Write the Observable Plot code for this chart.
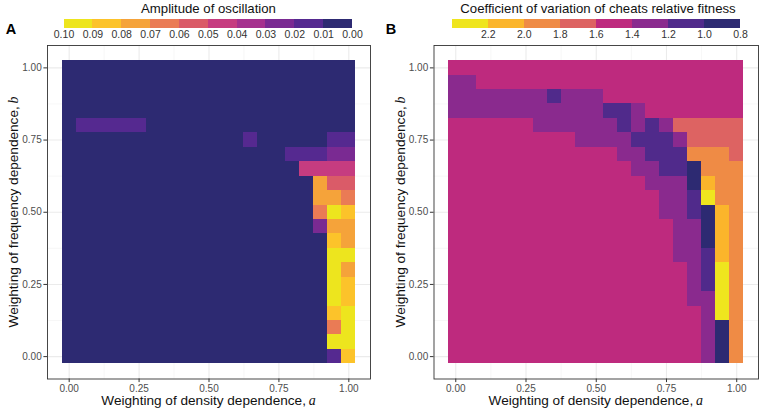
<!DOCTYPE html>
<html><head><meta charset="utf-8">
<script src="https://cdn.jsdelivr.net/npm/d3@7"></script>
<script src="https://cdn.jsdelivr.net/npm/@observablehq/plot@0.6"></script>
<style>
body{margin:0;background:#fff;}
#root{position:relative;width:760px;height:416px;overflow:hidden;background:#fff;font-family:"Liberation Sans",Arial,sans-serif;}
#root svg{position:absolute;top:0;background:none !important;}
</style></head><body><div id="root"></div>
<script>
// grid coordinates
const aValues = [0.00,0.05,0.10,0.15,0.20,0.25,0.30,0.35,0.40,0.45,0.50,0.55,0.60,0.65,0.70,0.75,0.80,0.85,0.90,0.95,1.00];
const bValues = [1.00,0.95,0.90,0.85,0.80,0.75,0.70,0.65,0.60,0.55,0.50,0.45,0.40,0.35,0.30,0.25,0.20,0.15,0.10,0.05,0.00];

// Panel A: amplitude of oscillation (rows from b = 1.00 down to b = 0.00, columns a = 0.00 .. 1.00)
const amplitudeRows = [
 [.005,.005,.005,.005,.005, .005,.005,.005,.005,.005, .005,.005,.005,.005,.005, .005,.005,.005,.005,.005, .005],
 [.005,.005,.005,.005,.005, .005,.005,.005,.005,.005, .005,.005,.005,.005,.005, .005,.005,.005,.005,.005, .005],
 [.005,.005,.005,.005,.005, .005,.005,.005,.005,.005, .005,.005,.005,.005,.005, .005,.005,.005,.005,.005, .005],
 [.005,.005,.005,.005,.005, .005,.005,.005,.005,.005, .005,.005,.005,.005,.005, .005,.005,.005,.005,.005, .005],
 [.005,.015,.015,.015,.015, .015,.005,.005,.005,.005, .005,.005,.005,.005,.005, .005,.005,.005,.005,.005, .005],
 [.005,.005,.005,.005,.005, .005,.005,.005,.005,.005, .005,.005,.005,.015,.005, .005,.005,.005,.005,.015, .015],
 [.005,.005,.005,.005,.005, .005,.005,.005,.005,.005, .005,.005,.005,.005,.005, .005,.015,.015,.015,.025, .025],
 [.005,.005,.005,.005,.005, .005,.005,.005,.005,.005, .005,.005,.005,.005,.005, .005,.005,.045,.045,.045, .045],
 [.005,.005,.005,.005,.005, .005,.005,.005,.005,.005, .005,.005,.005,.005,.005, .005,.005,.005,.075,.055, .055],
 [.005,.005,.005,.005,.005, .005,.005,.005,.005,.005, .005,.005,.005,.005,.005, .005,.005,.005,.075,.075, .065],
 [.005,.005,.005,.005,.005, .005,.005,.005,.005,.005, .005,.005,.005,.005,.005, .005,.005,.005,.065,.095, .085],
 [.005,.005,.005,.005,.005, .005,.005,.005,.005,.005, .005,.005,.005,.005,.005, .005,.005,.005,.025,.075, .075],
 [.005,.005,.005,.005,.005, .005,.005,.005,.005,.005, .005,.005,.005,.005,.005, .005,.005,.005,.005,.085, .075],
 [.005,.005,.005,.005,.005, .005,.005,.005,.005,.005, .005,.005,.005,.005,.005, .005,.005,.005,.005,.095, .095],
 [.005,.005,.005,.005,.005, .005,.005,.005,.005,.005, .005,.005,.005,.005,.005, .005,.005,.005,.005,.095, .075],
 [.005,.005,.005,.005,.005, .005,.005,.005,.005,.005, .005,.005,.005,.005,.005, .005,.005,.005,.005,.095, .085],
 [.005,.005,.005,.005,.005, .005,.005,.005,.005,.005, .005,.005,.005,.005,.005, .005,.005,.005,.005,.095, .085],
 [.005,.005,.005,.005,.005, .005,.005,.005,.005,.005, .005,.005,.005,.005,.005, .005,.005,.005,.005,.085, .095],
 [.005,.005,.005,.005,.005, .005,.005,.005,.005,.005, .005,.005,.005,.005,.005, .005,.005,.005,.005,.065, .095],
 [.005,.005,.005,.005,.005, .005,.005,.005,.005,.005, .005,.005,.005,.005,.005, .005,.005,.005,.005,.095, .095],
 [.005,.005,.005,.005,.005, .005,.005,.005,.005,.005, .005,.005,.005,.005,.005, .005,.005,.005,.005,.015, .085]
];

// Panel B: coefficient of variation of cheats relative fitness
const cvRows = [
 [1.5,1.5,1.5,1.5,1.5, 1.5,1.5,1.5,1.5,1.5, 1.5,1.5,1.5,1.5,1.5, 1.5,1.5,1.5,1.5,1.5, 1.5],
 [1.3,1.3,1.5,1.5,1.5, 1.5,1.5,1.5,1.5,1.5, 1.5,1.5,1.5,1.5,1.5, 1.5,1.5,1.5,1.5,1.5, 1.5],
 [1.3,1.3,1.3,1.3,1.3, 1.3,1.3,1.1,1.3,1.3, 1.3,1.5,1.5,1.5,1.5, 1.5,1.5,1.5,1.5,1.5, 1.5],
 [1.3,1.3,1.3,1.3,1.3, 1.3,1.3,1.3,1.3,1.3, 1.3,1.1,1.1,1.3,1.5, 1.5,1.5,1.5,1.5,1.5, 1.5],
 [1.5,1.5,1.5,1.5,1.5, 1.5,1.3,1.3,1.3,1.3, 1.3,1.3,1.1,1.3,1.1, 1.3,1.7,1.7,1.7,1.7, 1.7],
 [1.5,1.5,1.5,1.5,1.5, 1.5,1.5,1.5,1.5,1.3, 1.3,1.3,1.3,1.1,1.1, 1.1,1.3,1.7,1.7,1.7, 1.7],
 [1.5,1.5,1.5,1.5,1.5, 1.5,1.5,1.5,1.5,1.5, 1.5,1.5,1.3,1.3,1.1, 1.1,1.1,1.9,1.9,1.9, 1.7],
 [1.5,1.5,1.5,1.5,1.5, 1.5,1.5,1.5,1.5,1.5, 1.5,1.5,1.5,1.3,1.3, 1.1,1.1,0.9,1.9,1.9, 1.9],
 [1.5,1.5,1.5,1.5,1.5, 1.5,1.5,1.5,1.5,1.5, 1.5,1.5,1.5,1.5,1.3, 1.3,1.3,0.9,2.1,1.9, 1.9],
 [1.5,1.5,1.5,1.5,1.5, 1.5,1.5,1.5,1.5,1.5, 1.5,1.5,1.5,1.5,1.5, 1.3,1.3,1.1,2.3,1.9, 1.9],
 [1.5,1.5,1.5,1.5,1.5, 1.5,1.5,1.5,1.5,1.5, 1.5,1.5,1.5,1.5,1.5, 1.3,1.3,1.1,0.9,2.1, 1.9],
 [1.5,1.5,1.5,1.5,1.5, 1.5,1.5,1.5,1.5,1.5, 1.5,1.5,1.5,1.5,1.5, 1.5,1.3,1.3,0.9,2.1, 1.9],
 [1.5,1.5,1.5,1.5,1.5, 1.5,1.5,1.5,1.5,1.5, 1.5,1.5,1.5,1.5,1.5, 1.5,1.3,1.3,0.9,2.1, 1.9],
 [1.5,1.5,1.5,1.5,1.5, 1.5,1.5,1.5,1.5,1.5, 1.5,1.5,1.5,1.5,1.5, 1.5,1.3,1.3,1.1,2.1, 1.9],
 [1.5,1.5,1.5,1.5,1.5, 1.5,1.5,1.5,1.5,1.5, 1.5,1.5,1.5,1.5,1.5, 1.5,1.5,1.3,1.1,2.3, 1.9],
 [1.5,1.5,1.5,1.5,1.5, 1.5,1.5,1.5,1.5,1.5, 1.5,1.5,1.5,1.5,1.5, 1.5,1.5,1.3,1.1,2.3, 1.9],
 [1.5,1.5,1.5,1.5,1.5, 1.5,1.5,1.5,1.5,1.5, 1.5,1.5,1.5,1.5,1.5, 1.5,1.5,1.3,1.3,2.3, 1.9],
 [1.5,1.5,1.5,1.5,1.5, 1.5,1.5,1.5,1.5,1.5, 1.5,1.5,1.5,1.5,1.5, 1.5,1.5,1.5,1.3,2.3, 1.9],
 [1.5,1.5,1.5,1.5,1.5, 1.5,1.5,1.5,1.5,1.5, 1.5,1.5,1.5,1.5,1.5, 1.5,1.5,1.5,1.3,0.9, 1.9],
 [1.5,1.5,1.5,1.5,1.5, 1.5,1.5,1.5,1.5,1.5, 1.5,1.5,1.5,1.5,1.5, 1.5,1.5,1.5,1.3,0.9, 1.9],
 [1.5,1.5,1.5,1.5,1.5, 1.5,1.5,1.5,1.5,1.5, 1.5,1.5,1.5,1.5,1.5, 1.5,1.5,1.5,1.3,0.9, 1.9]
];

// axes
const axisTicks = [0, 0.25, 0.5, 0.75, 1];
const minorTicks = [0.125, 0.375, 0.625, 0.875];

// legends (binned scales)
const ampBreaks = [0.00,0.01,0.02,0.03,0.04,0.05,0.06,0.07,0.08,0.09,0.10];
const ampColors = ["#2d2a72","#552990","#7a2a92","#a5318e","#c63c80","#da5b68","#ea7b55","#f5a33a","#fcc32a","#ede51e"];
const cvBreaks = [0.8,1.0,1.2,1.4,1.6,1.8,2.0,2.2,2.4];
const cvLabels = [0.8,1.0,1.2,1.4,1.6,1.8,2.0,2.2];
const cvColors = ["#2d2a72","#502a8b","#8a2a8e","#be2a7e","#dd6362","#ef8b45","#fbb52b","#efe51e"];

const FONT = "'Liberation Sans', Arial, Helvetica, sans-serif";
const root = document.getElementById("root");

function cells(rows) {
  const out = [];
  rows.forEach((row, j) => row.forEach((v, i) => out.push({a: aValues[i], b: bValues[j], value: v})));
  return out;
}

function heatmap(rows, breaks, colors, mL, mR) {
  const half = 0.025;
  return Plot.plot({
    width: 380, height: 416,
    marginLeft: mL, marginRight: mR, marginTop: 45, marginBottom: 37.5,
    style: {fontFamily: FONT, background: "none", overflow: "visible"},
    x: {domain: [-0.0775, 1.0775]},
    y: {domain: [-0.0775, 1.0775]},
    color: {type: "threshold", domain: breaks.slice(1, -1), range: colors},
    marks: [
      Plot.ruleX(minorTicks, {stroke: "#f2f2f2", strokeWidth: 0.6}),
      Plot.ruleY(minorTicks, {stroke: "#f2f2f2", strokeWidth: 0.6}),
      Plot.ruleX(axisTicks, {stroke: "#ebebeb", strokeWidth: 1.1}),
      Plot.ruleY(axisTicks, {stroke: "#ebebeb", strokeWidth: 1.1}),
      Plot.rect(cells(rows), {
        x1: d => d.a - half, x2: d => d.a + half,
        y1: d => d.b - half, y2: d => d.b + half,
        fill: "value", shapeRendering: "crispEdges"
      }),
      Plot.frame({stroke: "#333", strokeWidth: 0.9}),
      Plot.axisX({ticks: axisTicks, tickFormat: d3.format(".2f"), tickSize: 3.6, tickPadding: 2.2,
                  fontSize: 10, fill: "#4d4d4d", stroke: "#333", label: null}),
      Plot.axisY({ticks: axisTicks, tickFormat: d3.format(".2f"), tickSize: 3.6, tickPadding: 2.2,
                  fontSize: 10, fill: "#4d4d4d", stroke: "#333", label: null})
    ]
  });
}

function legend(breaks, colors, labels, fmt, mL, mR) {
  const bins = d3.pairs(breaks).map(([lo, hi]) => ({lo, hi, mid: (lo + hi) / 2}));
  return Plot.plot({
    width: 380, height: 45,
    marginLeft: mL, marginRight: mR, marginTop: 19, marginBottom: 17,
    style: {fontFamily: FONT, background: "none", overflow: "visible"},
    x: {domain: [breaks[breaks.length - 1], breaks[0]]},
    color: {type: "threshold", domain: breaks.slice(1, -1), range: colors},
    marks: [
      Plot.rect(bins, {x1: "lo", x2: "hi", fill: "mid", shapeRendering: "crispEdges"}),
      Plot.axisX({ticks: labels, tickFormat: fmt, tickSize: 0, tickPadding: 1.6,
                  fontSize: 10.5, fill: "#333", label: null})
    ]
  });
}

function addTitles(svg, xTitle, xVar, yTitle, yVar, cx, yx) {
  const s = d3.select(svg);
  const xt = s.append("text").attr("x", cx).attr("y", 405).attr("text-anchor", "middle")
    .attr("font-size", 13.6).attr("fill", "#111").attr("font-family", FONT);
  xt.append("tspan").text(xTitle);
  xt.append("tspan").attr("font-family", "'Liberation Serif', 'DejaVu Serif', serif")
    .attr("font-style", "italic").attr("font-size", 14).text(xVar);
  const yt = s.append("text").attr("transform", `translate(${yx},212) rotate(-90)`).attr("text-anchor", "middle")
    .attr("font-size", 13.6).attr("fill", "#111").attr("font-family", FONT);
  yt.append("tspan").text(yTitle);
  yt.append("tspan").attr("font-family", "'Liberation Serif', 'DejaVu Serif', serif")
    .attr("font-style", "italic").attr("font-size", 14).text(yVar);
}

function addLegendText(svg, title, cx, tag) {
  const s = d3.select(svg);
  s.append("text").attr("x", cx).attr("y", 12.5).attr("text-anchor", "middle")
    .attr("font-size", 13.2).attr("fill", "#111").attr("font-family", FONT).text(title);
  s.append("text").attr("x", 11).attr("y", 34).attr("font-size", 14.5).attr("font-weight", "bold")
    .attr("fill", "#000").attr("font-family", FONT).text(tag);
}

// Panel A
const heatA = heatmap(amplitudeRows, ampBreaks, ampColors, 47, 10);
addTitles(heatA, "Weighting of density dependence,\u2009", "a", "Weighting of frequency dependence,\u2009", "b", 208.5, 18);
heatA.style.left = "0px";
root.appendChild(heatA);

const legA = legend(ampBreaks, ampColors, ampBreaks, d3.format(".2f"), 63.5, 28);
addLegendText(legA, "Amplitude of oscillation", 208.5, "A");
legA.style.left = "0px";
root.appendChild(legA);

// Panel B
const heatB = heatmap(cvRows, cvBreaks, cvColors, 53.5, 2);
addTitles(heatB, "Weighting of density dependence,\u2009", "a", "Weighting of frequency dependence,\u2009", "b", 215.75, 24.5);
heatB.style.left = "380px";
root.appendChild(heatB);

const legB = legend(cvBreaks, cvColors, cvLabels, d3.format(".1f"), 71.7, 20);
addLegendText(legB, "Coefficient of variation of cheats relative fitness", 218, "B");
legB.style.left = "380px";
root.appendChild(legB);
</script>
</body></html>
